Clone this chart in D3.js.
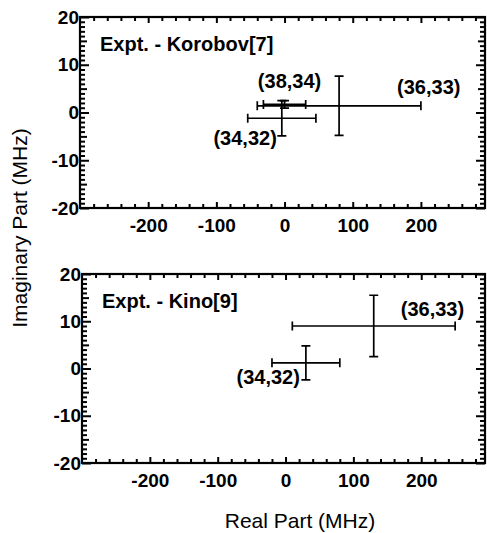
<!DOCTYPE html>
<html>
<head>
<meta charset="utf-8">
<script src="https://cdn.jsdelivr.net/npm/d3@7"></script>
<style>
  body { margin: 0; background: #fff; }
  text { font-family: "Liberation Sans", Arial, Helvetica, sans-serif; fill: #000; }
</style>
</head>
<body>
<script>
// data (MHz)
var panelTitles = ["Expt. - Korobov[7]", "Expt. - Kino[9]"];

var korobovLabels = ["(34,32)", "(36,33)", "(38,34)"];
var korobovRe     = [-4, 80, 0];
var korobovReErr  = [50, 120, 31];
var korobovIm     = [-1.2, 1.4, 1.7];
var korobovImErr  = [3.7, 6.2, 0.8];

var kinoLabels = ["(34,32)", "(36,33)"];
var kinoRe     = [30, 130];
var kinoReErr  = [50, 120];
var kinoIm     = [1.2, 9.0];
var kinoImErr  = [3.6, 6.5];

var xTicks = [-200, -100, 0, 100, 200];
var yTicks = [-20, -10, 0, 10, 20];

// label placement relative to the point, in pixels (anchor, dx, dy)
var korobovLabelPos = [["end", -5, 27], ["start", 58, -12], ["middle", 5, -16]];
var kinoLabelPos    = [["end", -6, 21], ["start", 27, -10]];

var W = 487, H = 533;

var svgEl = d3.select("body").append("svg")
    .attr("width", W)
    .attr("height", H);

// plain hyphen for negatives, like the original
function fmt(d){ return String(d); }

/** drawPanel: frame, ticks, error bars and labels of one panel */
function drawPanel(box, title, labels, re, reErr, im, imErr, labelPos){
    var x = d3.scaleLinear().domain([-300, 294]).range([box.left, box.right]);
    var y = d3.scaleLinear().domain([-20, 20]).range([box.bottom, box.top]);
    var g = svgEl.append("g");

    var xMinor = d3.range(-300, 300, 20).filter(function(v){ return v % 100 != 0; });
    var yMinor = d3.range(-20, 21, 1).filter(function(v){ return v % 5 != 0; });
    var yMid = [-15, -5, 5, 15];

    function tickAxis(axis, values, size, transform){
        var a = g.append("g")
            .attr("transform", transform)
            .call(axis.tickValues(values).tickSize(size).tickFormat(""));
        a.select(".domain").remove();
        a.selectAll("line").attr("stroke", "#000").attr("stroke-width", 2);
        return a;
    }

    // x ticks, bottom and top, pointing inward
    tickAxis(d3.axisBottom(x), xMinor, -4, "translate(0," + box.bottom + ")");
    tickAxis(d3.axisTop(x), xMinor, -4, "translate(0," + box.top + ")");
    tickAxis(d3.axisTop(x), xTicks, -6, "translate(0," + box.top + ")");
    var xb = g.append("g")
        .attr("transform", "translate(0," + box.bottom + ")")
        .call(d3.axisBottom(x).tickValues(xTicks).tickSize(-6).tickPadding(11).tickFormat(fmt));
    xb.select(".domain").remove();
    xb.selectAll("line").attr("stroke", "#000").attr("stroke-width", 2);
    xb.selectAll("text")
        .attr("font-size", 19).attr("font-weight", "bold")
        .attr("fill", "#000");

    // y ticks, left and right
    tickAxis(d3.axisLeft(y), yMinor, -5, "translate(" + box.left + ",0)");
    tickAxis(d3.axisLeft(y), yMid, -7, "translate(" + box.left + ",0)");
    tickAxis(d3.axisRight(y), yMinor, -5, "translate(" + box.right + ",0)");
    tickAxis(d3.axisRight(y), yMid, -7, "translate(" + box.right + ",0)");
    tickAxis(d3.axisRight(y), yTicks, -9, "translate(" + box.right + ",0)");
    var yl = g.append("g")
        .attr("transform", "translate(" + box.left + ",0)")
        .call(d3.axisLeft(y).tickValues(yTicks).tickSize(-9).tickPadding(1).tickFormat(fmt));
    yl.select(".domain").remove();
    yl.selectAll("line").attr("stroke", "#000").attr("stroke-width", 2);
    yl.selectAll("text")
        .attr("x", -1)
        .attr("font-size", 19).attr("font-weight", "bold")
        .attr("fill", "#000");

    // frame
    g.append("rect")
        .attr("x", box.left).attr("y", box.top)
        .attr("width", box.right - box.left)
        .attr("height", box.bottom - box.top)
        .attr("fill", "none")
        .attr("stroke", "#000")
        .attr("stroke-width", 2.2);

    g.append("text")
        .attr("x", box.left + 20)
        .attr("y", box.top + 34)
        .attr("font-size", 20)
        .attr("font-weight", "bold")
        .text(title);

    // error bars
    var cap = 4.5;
    for(var i = 0; i < re.length; i++){
        var cx = x(re[i]), cy = y(im[i]);
        var x0 = x(re[i] - reErr[i]), x1 = x(re[i] + reErr[i]);
        var y0 = y(im[i] - imErr[i]), y1 = y(im[i] + imErr[i]);
        var p = "M" + x0 + "," + cy + "H" + x1 +
            "M" + x0 + "," + (cy - cap) + "V" + (cy + cap) +
            "M" + x1 + "," + (cy - cap) + "V" + (cy + cap) +
            "M" + cx + "," + y0 + "V" + y1 +
            "M" + (cx - cap) + "," + y0 + "H" + (cx + cap) +
            "M" + (cx - cap) + "," + y1 + "H" + (cx + cap);
        g.append("path")
            .attr("d", p)
            .attr("fill", "none")
            .attr("stroke", "#000")
            .attr("stroke-width", 1.7);

        g.append("text")
            .attr("x", cx + labelPos[i][1])
            .attr("y", cy + labelPos[i][2])
            .attr("text-anchor", labelPos[i][0])
            .attr("font-size", 20)
            .attr("font-weight", "bold")
            .text(labels[i]);
    }
}

drawPanel({left: 80, right: 485, top: 17, bottom: 208}, panelTitles[0],
    korobovLabels, korobovRe, korobovReErr, korobovIm, korobovImErr, korobovLabelPos);
drawPanel({left: 82, right: 485, top: 274, bottom: 463}, panelTitles[1],
    kinoLabels, kinoRe, kinoReErr, kinoIm, kinoImErr, kinoLabelPos);

// axis titles
svgEl.append("text")
    .attr("x", 300).attr("y", 528)
    .attr("text-anchor", "middle")
    .attr("font-size", 21)
    .text("Real Part (MHz)");

svgEl.append("text")
    .attr("transform", "translate(27,228) rotate(-90)")
    .attr("text-anchor", "middle")
    .attr("font-size", 21)
    .text("Imaginary Part (MHz)");
</script>
</body>
</html>
